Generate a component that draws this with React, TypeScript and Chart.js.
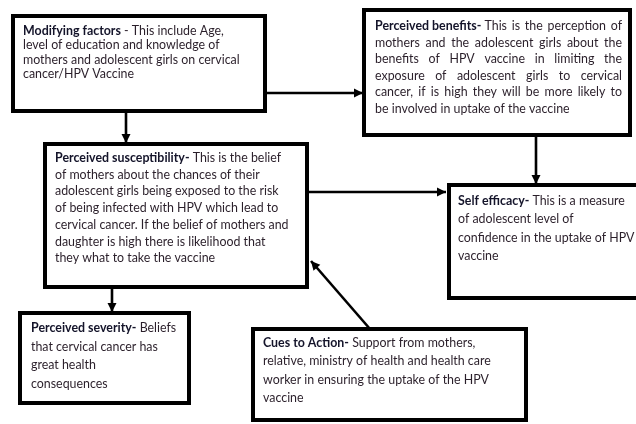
import React, { useEffect, useRef } from "react";
import { Chart, registerables } from "chart.js";

Chart.register(...registerables);

// Diagram boxes (border centre lines, in diagram units = px of a 636x424 sheet)
const boxNames = ["modifying", "benefits", "susceptibility", "efficacy", "severity", "cues"];
const boxX0 = [13, 364, 45, 449, 20, 253];
const boxX1 = [265, 630, 307, 660, 189, 526];
const boxY0 = [16, 10, 144, 185, 313, 329];
const boxY1 = [111, 135, 287, 298, 403, 420];

// Text of each box
const boxTitles = [
  "Modifying factors",
  "Perceived benefits-",
  "Perceived susceptibility-",
  "Self efficacy-",
  "Perceived severity-",
  "Cues to Action-",
];
const boxLines: string[][] = [
  [
    " - This include Age,",
    "level of education and knowledge of",
    "mothers and adolescent girls on cervical",
    "cancer/HPV Vaccine",
  ],
  [
    " This is the perception of",
    "mothers and the adolescent girls about the",
    "benefits of HPV vaccine in limiting the",
    "exposure of adolescent girls to cervical",
    "cancer, if is high they will be more likely to",
    "be involved in uptake of the vaccine",
  ],
  [
    " This is the belief",
    "of mothers about the chances of their",
    "adolescent girls being exposed to the risk",
    "of being infected with HPV which lead to",
    "cervical cancer. If the belief of mothers and",
    "daughter is high there is likelihood that",
    "they what to take the vaccine",
  ],
  [
    " This is a measure",
    "of adolescent level of",
    "confidence in the uptake of HPV",
    "vaccine",
  ],
  [
    " Beliefs",
    "that cervical cancer has",
    "great health",
    "consequences",
  ],
  [
    " Support from mothers,",
    "relative, ministry of health and health care",
    "worker in ensuring the uptake of the HPV",
    "vaccine",
  ],
];
const textX = [23, 375, 55, 458, 31, 263];
const textY0 = [31, 26, 158, 201, 328, 343];
const lineGap = [14.4, 16.6, 16.7, 18.3, 18.7, 18.3];
const justifyRight = [0, 622, 0, 0, 0, 0];

// Arrows: from (x0,y0) to (x1,y1), head at the end
const arrowX0 = [126, 265, 536, 307, 112, 370];
const arrowY0 = [111, 93, 135, 192, 287, 329];
const arrowX1 = [126, 363, 536, 446, 112, 311];
const arrowY1 = [143, 93, 184, 192, 312, 261];

const FONT = "Lato, 'Open Sans', sans-serif";
const FONT_SIZE = 12.4;

const textPlugin = {
  id: "diagramText",
  afterDatasetsDraw(chart: any) {
    const ctx = chart.ctx as CanvasRenderingContext2D;
    const xs = chart.scales.x;
    const ys = chart.scales.y;
    ctx.save();
    // arrow heads
    ctx.fillStyle = "#000";
    for (let i = 0; i < arrowX0.length; i++) {
      const ax = xs.getPixelForValue(arrowX0[i]);
      const ay = ys.getPixelForValue(arrowY0[i]);
      const bx = xs.getPixelForValue(arrowX1[i]);
      const by = ys.getPixelForValue(arrowY1[i]);
      const ang = Math.atan2(by - ay, bx - ax);
      const len = 9;
      const hw = 4.5;
      const cx = bx - Math.cos(ang) * len;
      const cy = by - Math.sin(ang) * len;
      ctx.beginPath();
      ctx.moveTo(bx, by);
      ctx.lineTo(cx - Math.sin(ang) * hw, cy + Math.cos(ang) * hw);
      ctx.lineTo(cx + Math.sin(ang) * hw, cy - Math.cos(ang) * hw);
      ctx.closePath();
      ctx.fill();
    }
    // text
    ctx.textBaseline = "middle";
    ctx.textAlign = "left";
    for (let i = 0; i < boxNames.length; i++) {
      const x = xs.getPixelForValue(textX[i]);
      const lines = boxLines[i];
      for (let j = 0; j < lines.length; j++) {
        const y = ys.getPixelForValue(textY0[i] + j * lineGap[i]);
        const right = justifyRight[i] ? xs.getPixelForValue(justifyRight[i]) : 0;
        if (j === 0) {
          ctx.font = `bold ${FONT_SIZE}px ${FONT}`;
          ctx.fillStyle = "#14142a";
          ctx.fillText(boxTitles[i], x, y);
          const tw = ctx.measureText(boxTitles[i]).width;
          ctx.font = `${FONT_SIZE}px ${FONT}`;
          ctx.fillStyle = "#2a1f2a";
          if (right) {
            drawJustified(ctx, lines[j], x + tw, y, right);
          } else {
            ctx.fillText(lines[j], x + tw, y);
          }
        } else {
          ctx.font = `${FONT_SIZE}px ${FONT}`;
          ctx.fillStyle = "#2a1f2a";
          if (right && j < lines.length - 1) {
            drawJustified(ctx, lines[j], x, y, right);
          } else {
            ctx.fillText(lines[j], x, y);
          }
        }
      }
    }
    ctx.restore();
  },
};

function drawJustified(ctx: CanvasRenderingContext2D, text: string, x: number, y: number, right: number) {
  const lead = text.startsWith(" ");
  const words = text.trim().split(/\s+/);
  const spaceW = ctx.measureText(" ").width;
  const startX = lead ? x + spaceW : x;
  const widths = words.map((w) => ctx.measureText(w).width);
  const total = widths.reduce((a, b) => a + b, 0);
  const gaps = words.length - 1;
  const gap = gaps > 0 ? Math.max(spaceW * 0.7, (right - startX - total) / gaps) : 0;
  let cx = startX;
  for (let k = 0; k < words.length; k++) {
    ctx.fillText(words[k], cx, y);
    cx += widths[k] + gap;
  }
}

export default function App() {
  const ref = useRef<HTMLCanvasElement>(null);
  useEffect(() => {
    document.body.style.margin = "0";
    const datasets: any[] = [];
    for (let i = 0; i < arrowX0.length; i++) {
      datasets.push({
        label: "arrow" + i,
        data: [
          { x: arrowX0[i], y: arrowY0[i] },
          { x: arrowX1[i], y: arrowY1[i] },
        ],
        showLine: true,
        borderColor: "#000",
        borderWidth: 2.6,
        pointRadius: 0,
        fill: false,
        clip: false,
      });
    }
    for (let i = 0; i < boxNames.length; i++) {
      datasets.push({
        label: boxNames[i],
        data: [
          { x: boxX0[i], y: boxY0[i] },
          { x: boxX1[i], y: boxY0[i] },
          { x: boxX1[i], y: boxY1[i] },
          { x: boxX0[i], y: boxY1[i] },
          { x: boxX0[i], y: boxY0[i] },
        ],
        showLine: true,
        borderColor: "#000",
        backgroundColor: "#fff",
        borderWidth: 4,
        borderJoinStyle: "miter",
        borderCapStyle: "square",
        pointRadius: 0,
        fill: false,
        clip: false,
      });
    }
    const chart = new Chart(ref.current!, {
      type: "scatter",
      data: { datasets },
      options: {
        animation: false,
        responsive: false,
        events: [],
        layout: { padding: 0 },
        plugins: { legend: { display: false }, tooltip: { enabled: false } },
        scales: {
          x: { type: "linear", min: 0, max: 636, display: false },
          y: { type: "linear", min: 0, max: 424, reverse: true, display: false },
        },
      },
      plugins: [textPlugin],
    });
    return () => chart.destroy();
  }, []);
  return (
    <div style={{ position: "fixed", left: 0, top: 0, width: 636, height: 424, background: "#fff" }}>
      <canvas ref={ref} width={636} height={424} style={{ display: "block" }} />
    </div>
  );
}
